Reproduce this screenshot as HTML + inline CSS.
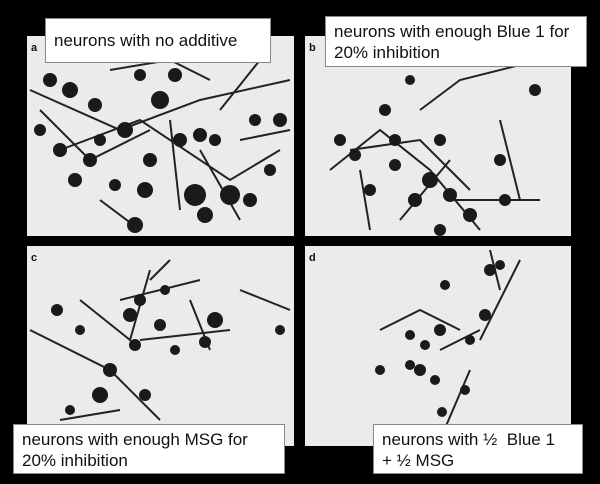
<!DOCTYPE html>
<html><head><meta charset="utf-8"><style>
body{margin:0;background:#000;width:600px;height:484px;overflow:hidden;position:relative;font-family:"Liberation Sans",Arial,sans-serif}
.p{position:absolute;background:#ebebeb}
.l{position:absolute;background:#fff;border:1px solid #888;font-size:17px;line-height:21px;color:#111;padding:0 0 0 8px;box-sizing:border-box}
.t{position:absolute;font-size:11px;font-weight:bold;color:#111}
svg{position:absolute;left:0;top:0}
</style></head><body>
<div class="p" style="left:27px;top:36px;width:267px;height:200px"></div>
<div class="p" style="left:305px;top:36px;width:266px;height:200px"></div>
<div class="p" style="left:27px;top:246px;width:267px;height:200px"></div>
<div class="p" style="left:305px;top:246px;width:266px;height:200px"></div>
<svg width="600" height="484" viewBox="0 0 600 484">
<g stroke="#222" stroke-width="2" fill="none">
<path d="M30 90 L120 130 L200 100 L290 80 M60 150 L140 120 L230 180 L280 150 M100 200 L140 230 M170 120 L180 210 M220 110 L260 60 M40 110 L90 160 L150 130 M110 70 L170 60 L210 80 M240 140 L290 130 M200 150 L240 220"/>
<path d="M330 170 L380 130 L430 170 L480 230 M370 230 L360 170 M420 110 L460 80 L540 60 M450 200 L540 200 M500 120 L520 200 M350 150 L420 140 L470 190 M400 220 L450 160"/>
<path d="M30 330 L110 370 L160 420 M120 300 L200 280 M150 280 L170 260 M140 340 L230 330 M240 290 L290 310 M60 420 L120 410 M80 300 L130 340 L150 270 M190 300 L210 350"/>
<path d="M380 330 L420 310 L460 330 M440 350 L480 330 M470 370 L440 440 M480 340 L520 260 M500 290 L490 250"/>
</g>
<g fill="#1a1a1a">
<circle cx="50" cy="80" r="7"/><circle cx="70" cy="90" r="8"/><circle cx="95" cy="105" r="7"/><circle cx="125" cy="130" r="8"/><circle cx="160" cy="100" r="9"/><circle cx="180" cy="140" r="7"/><circle cx="200" cy="135" r="7"/><circle cx="215" cy="140" r="6"/><circle cx="60" cy="150" r="7"/><circle cx="90" cy="160" r="7"/><circle cx="150" cy="160" r="7"/><circle cx="145" cy="190" r="8"/><circle cx="115" cy="185" r="6"/><circle cx="135" cy="225" r="8"/><circle cx="195" cy="195" r="11"/><circle cx="230" cy="195" r="10"/><circle cx="250" cy="200" r="7"/><circle cx="270" cy="170" r="6"/><circle cx="280" cy="120" r="7"/><circle cx="75" cy="180" r="7"/><circle cx="40" cy="130" r="6"/><circle cx="140" cy="75" r="6"/><circle cx="175" cy="75" r="7"/><circle cx="255" cy="120" r="6"/><circle cx="100" cy="140" r="6"/><circle cx="205" cy="215" r="8"/>
<circle cx="340" cy="140" r="6"/><circle cx="355" cy="155" r="6"/><circle cx="385" cy="110" r="6"/><circle cx="395" cy="165" r="6"/><circle cx="415" cy="200" r="7"/><circle cx="430" cy="180" r="8"/><circle cx="440" cy="230" r="6"/><circle cx="470" cy="215" r="7"/><circle cx="500" cy="160" r="6"/><circle cx="505" cy="200" r="6"/><circle cx="535" cy="90" r="6"/><circle cx="410" cy="80" r="5"/><circle cx="370" cy="190" r="6"/><circle cx="440" cy="140" r="6"/><circle cx="450" cy="195" r="7"/><circle cx="395" cy="140" r="6"/>
<circle cx="57" cy="310" r="6"/><circle cx="80" cy="330" r="5"/><circle cx="130" cy="315" r="7"/><circle cx="160" cy="325" r="6"/><circle cx="135" cy="345" r="6"/><circle cx="110" cy="370" r="7"/><circle cx="100" cy="395" r="8"/><circle cx="70" cy="410" r="5"/><circle cx="145" cy="395" r="6"/><circle cx="215" cy="320" r="8"/><circle cx="205" cy="342" r="6"/><circle cx="175" cy="350" r="5"/><circle cx="280" cy="330" r="5"/><circle cx="165" cy="290" r="5"/><circle cx="140" cy="300" r="6"/>
<circle cx="445" cy="285" r="5"/><circle cx="490" cy="270" r="6"/><circle cx="485" cy="315" r="6"/><circle cx="440" cy="330" r="6"/><circle cx="410" cy="335" r="5"/><circle cx="425" cy="345" r="5"/><circle cx="420" cy="370" r="6"/><circle cx="410" cy="365" r="5"/><circle cx="435" cy="380" r="5"/><circle cx="380" cy="370" r="5"/><circle cx="470" cy="340" r="5"/><circle cx="465" cy="390" r="5"/><circle cx="442" cy="412" r="5"/><circle cx="500" cy="265" r="5"/>
</g></svg>
<div class="t" style="left:31px;top:42px">a</div>
<div class="t" style="left:309px;top:42px">b</div>
<div class="t" style="left:31px;top:252px">c</div>
<div class="t" style="left:309px;top:252px">d</div>
<div class="l" style="left:45px;top:18px;width:226px;height:45px;line-height:43px">neurons with no additive</div>
<div class="l" style="left:325px;top:16px;width:262px;height:51px;padding-top:4px">neurons with enough Blue 1 for<br>20% inhibition</div>
<div class="l" style="left:13px;top:424px;width:272px;height:50px;padding-top:4px">neurons with enough MSG for<br>20% inhibition</div>
<div class="l" style="left:373px;top:424px;width:210px;height:50px;padding-top:4px">neurons with ½&nbsp; Blue 1<br>+ ½ MSG</div>
</body></html>
